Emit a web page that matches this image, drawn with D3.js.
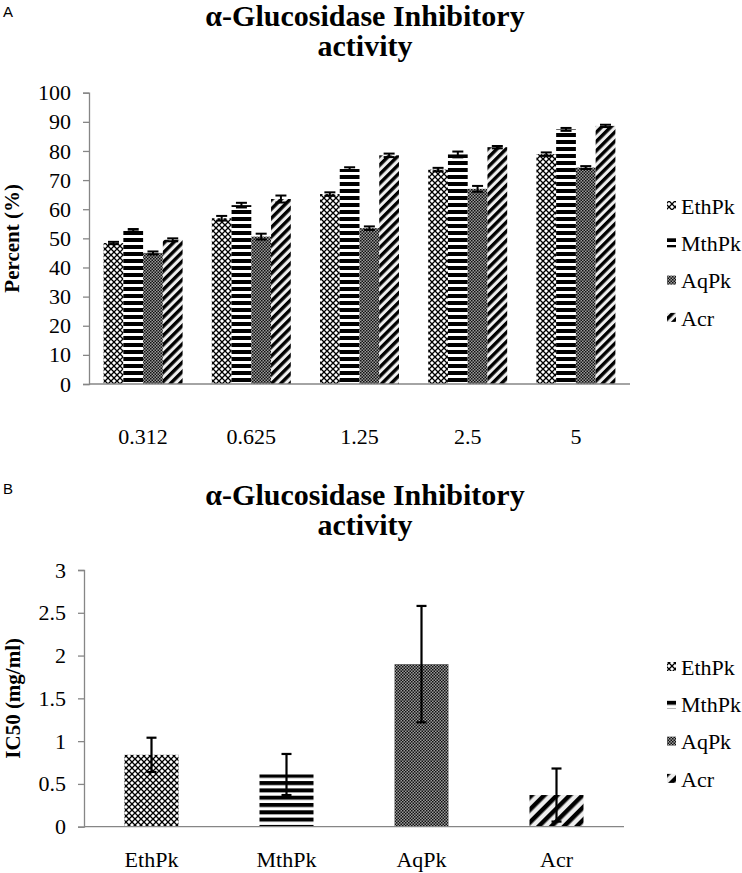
<!DOCTYPE html>
<html>
<head>
<meta charset="utf-8">
<script src="https://cdn.jsdelivr.net/npm/d3@7"></script>
<style>
  body { margin: 0; background: #fff; }
  svg { display: block; }
</style>
</head>
<body>
<svg id="chart" width="742" height="873"></svg>
<script>
"use strict";

// ---- data ----
var series = ["EthPk", "MthPk", "AqPk", "Acr"];
var concentrations = ["0.312", "0.625", "1.25", "2.5", "5"];

var ethPk = [48.4, 56.9, 65.2, 73.6, 78.9];
var mthPk = [52.8, 61.4, 73.8, 78.8, 87.4];
var aqPk  = [45.0, 50.6, 53.5, 67.0, 74.3];
var acr   = [49.5, 63.5, 78.5, 81.3, 88.6];

var ethPkErr = [0.4, 0.8, 0.6, 0.6, 0.6];
var mthPkErr = [0.4, 0.8, 0.6, 1.0, 0.5];
var aqPkErr  = [0.5, 1.0, 0.6, 1.0, 0.5];
var acrErr   = [0.5, 1.2, 0.6, 0.4, 0.4];

var ic50    = [0.84, 0.61, 1.90, 0.37];
var ic50Err = [0.20, 0.24, 0.68, 0.31];

var percentTicks = [0, 10, 20, 30, 40, 50, 60, 70, 80, 90, 100];
var ic50Ticks = [0, 0.5, 1, 1.5, 2, 2.5, 3];

var titleLines = ["\u03b1-Glucosidase Inhibitory", "activity"];

var SERIF = "'Liberation Serif', 'Times New Roman', Times, serif";
var svg = d3.select("#chart").style("font-family", SERIF);
var axisColor = "#868686";

// ---- fill patterns (Excel-like) ----
var defs = svg.append("defs");

function patEth(id) {
    var p = defs.append("pattern").attr("id", id)
        .attr("patternUnits", "userSpaceOnUse").attr("width", 6).attr("height", 6);
    p.append("rect").attr("width", 6).attr("height", 6).attr("fill", "#fff");
    p.append("path").attr("d", "M0,0L6,6M6,0L0,6")
        .attr("stroke", "#000").attr("stroke-width", 1.3);
    p.append("circle").attr("cx", 3).attr("cy", 0).attr("r", 0.9).attr("fill", "#fff");
}
function patMth(id, h, dark) {
    var p = defs.append("pattern").attr("id", id)
        .attr("patternUnits", "userSpaceOnUse").attr("width", 8).attr("height", h);
    p.append("rect").attr("width", 8).attr("height", h).attr("fill", "#fff");
    p.append("rect").attr("width", 8).attr("height", dark).attr("fill", "#000");
}
function patAq(id) {
    var p = defs.append("pattern").attr("id", id)
        .attr("patternUnits", "userSpaceOnUse").attr("width", 3).attr("height", 3);
    p.append("rect").attr("width", 3).attr("height", 3).attr("fill", "#9a9a9a");
    p.append("rect").attr("width", 1.5).attr("height", 1.5).attr("fill", "#111");
    p.append("rect").attr("x", 1.5).attr("y", 1.5).attr("width", 1.5).attr("height", 1.5).attr("fill", "#111");
}
function patAcr(id, w, dark) {
    var p = defs.append("pattern").attr("id", id)
        .attr("patternUnits", "userSpaceOnUse").attr("width", w).attr("height", w)
        .attr("patternTransform", "rotate(45)");
    p.append("rect").attr("width", w).attr("height", w).attr("fill", "#eee");
    p.append("rect").attr("width", dark).attr("height", w).attr("fill", "#000");
}

patEth("pEth");
patMth("pMth", 7, 4);
patAq("pAq");
patAcr("pAcr", 6.5, 3.4);
patMth("pMthB", 7.3, 4);
patAcr("pAcrB", 9, 4.5);

var fillsA = ["url(#pEth)", "url(#pMth)", "url(#pAq)", "url(#pAcr)"];
var fillsB = ["url(#pEth)", "url(#pMthB)", "url(#pAq)", "url(#pAcrB)"];

// ---- helpers ----
function drawTitle(baseline) {
    titleLines.forEach(function(s, i) {
        svg.append("text")
            .attr("x", 365).attr("y", baseline + i * 29.5)
            .attr("text-anchor", "middle")
            .style("font-family", SERIF)
            .style("font-weight", "bold")
            .style("font-size", "30px")
            .text(s);
    });
}

function drawYAxis(yScale, x, ticks, fmt, label, labelX) {
    var g = svg.append("g")
        .attr("transform", "translate(" + x + ",0)")
        .call(d3.axisLeft(yScale).tickValues(ticks).tickFormat(fmt).tickSize(6).tickPadding(12));
    g.attr("font-family", null).attr("font-size", null);
    g.select(".domain").attr("stroke", axisColor).attr("stroke-width", 1.3);
    g.selectAll(".tick line").attr("stroke", axisColor).attr("stroke-width", 1.3);
    g.selectAll(".tick text")
        .attr("fill", "#000")
        .style("font-family", SERIF)
        .style("font-size", "22px");

    var r = yScale.range();
    svg.append("text")
        .attr("transform", "translate(" + labelX + "," + ((r[0] + r[1]) / 2) + ") rotate(-90)")
        .attr("text-anchor", "middle")
        .attr("dy", "0.35em")
        .style("font-family", SERIF)
        .style("font-weight", "bold")
        .style("font-size", "21px")
        .text(label);
}

function drawXAxis(xScale, y, labelY) {
    var r = xScale.range();
    svg.append("line")
        .attr("x1", r[0]).attr("x2", r[1])
        .attr("y1", y).attr("y2", y)
        .attr("stroke", axisColor).attr("stroke-width", 1.3);
    svg.append("g").selectAll("text")
        .data(xScale.domain())
        .join("text")
        .attr("x", function(d) { return xScale(d) + xScale.bandwidth() / 2; })
        .attr("y", labelY)
        .attr("text-anchor", "middle")
        .style("font-family", SERIF)
        .style("font-size", "22px")
        .text(function(d) { return d; });
}

function drawErr(g, x, yScale, v, e, cap) {
    g.append("line").attr("x1", x).attr("x2", x)
        .attr("y1", yScale(v - e)).attr("y2", yScale(v + e));
    [v - e, v + e].forEach(function(w) {
        g.append("line").attr("x1", x - cap / 2).attr("x2", x + cap / 2)
            .attr("y1", yScale(w)).attr("y2", yScale(w));
    });
}

function drawLegend(y0, fills) {
    var g = svg.append("g");
    series.forEach(function(s, i) {
        var cy = y0 + i * 37.3;
        g.append("rect")
            .attr("x", 667).attr("y", cy - 5)
            .attr("width", 9).attr("height", 9)
            .attr("fill", fills[i]);
        g.append("text")
            .attr("x", 681).attr("y", cy)
            .attr("dy", "0.35em")
            .style("font-family", SERIF)
            .style("font-size", "22px")
            .text(s);
    });
}

function panelLabel(s, y) {
    svg.append("text").attr("x", 3).attr("y", y)
        .style("font-family", "'Liberation Sans', Arial, sans-serif")
        .style("font-size", "15px")
        .text(s);
}

// ---- panel A ----
panelLabel("A", 17);
drawTitle(26);

var yA = d3.scaleLinear().domain([0, 100]).range([384, 92.7]);
var x0 = d3.scaleBand().domain(concentrations).range([89, 630]).paddingInner(0.27).paddingOuter(0.135);
var x1 = d3.scaleBand().domain(series).range([0, x0.bandwidth()]);

var valuesA = [ethPk, mthPk, aqPk, acr];
var errsA = [ethPkErr, mthPkErr, aqPkErr, acrErr];

var barsA = svg.append("g");
series.forEach(function(s, si) {
    barsA.selectAll(null)
        .data(concentrations)
        .join("rect")
        .attr("x", function(c) { return x0(c) + x1(s); })
        .attr("y", function(c, ci) { return yA(valuesA[si][ci]); })
        .attr("width", x1.bandwidth())
        .attr("height", function(c, ci) { return yA(0) - yA(valuesA[si][ci]); })
        .attr("fill", fillsA[si]);
});

drawYAxis(yA, 89, percentTicks, d3.format("d"), "Percent (%)", 12);
drawXAxis(x0, 384, 444);

var errA = svg.append("g").attr("stroke", "#000").attr("stroke-width", 2);
series.forEach(function(s, si) {
    concentrations.forEach(function(c, ci) {
        drawErr(errA, x0(c) + x1(s) + x1.bandwidth() / 2, yA, valuesA[si][ci], errsA[si][ci], 11);
    });
});

drawLegend(206, fillsA);

// ---- panel B ----
panelLabel("B", 494);
drawTitle(505);

var yB = d3.scaleLinear().domain([0, 3]).range([826.7, 570]);
var xB = d3.scaleBand().domain(series).range([84, 624]).paddingInner(0.6).paddingOuter(0.3);

svg.append("g").selectAll("rect")
    .data(series)
    .join("rect")
    .attr("x", function(d) { return xB(d); })
    .attr("y", function(d, i) { return yB(ic50[i]); })
    .attr("width", xB.bandwidth())
    .attr("height", function(d, i) { return yB(0) - yB(ic50[i]); })
    .attr("fill", function(d, i) { return fillsB[i]; });

drawYAxis(yB, 84, ic50Ticks, d3.format("~g"), "IC50 (mg/ml)", 13);
drawXAxis(xB, 826.7, 867);

var errB = svg.append("g").attr("stroke", "#000").attr("stroke-width", 2.2);
series.forEach(function(s, i) {
    drawErr(errB, xB(s) + xB.bandwidth() / 2, yB, ic50[i], ic50Err[i], 10);
});

drawLegend(667, fillsB);
</script>
</body>
</html>
